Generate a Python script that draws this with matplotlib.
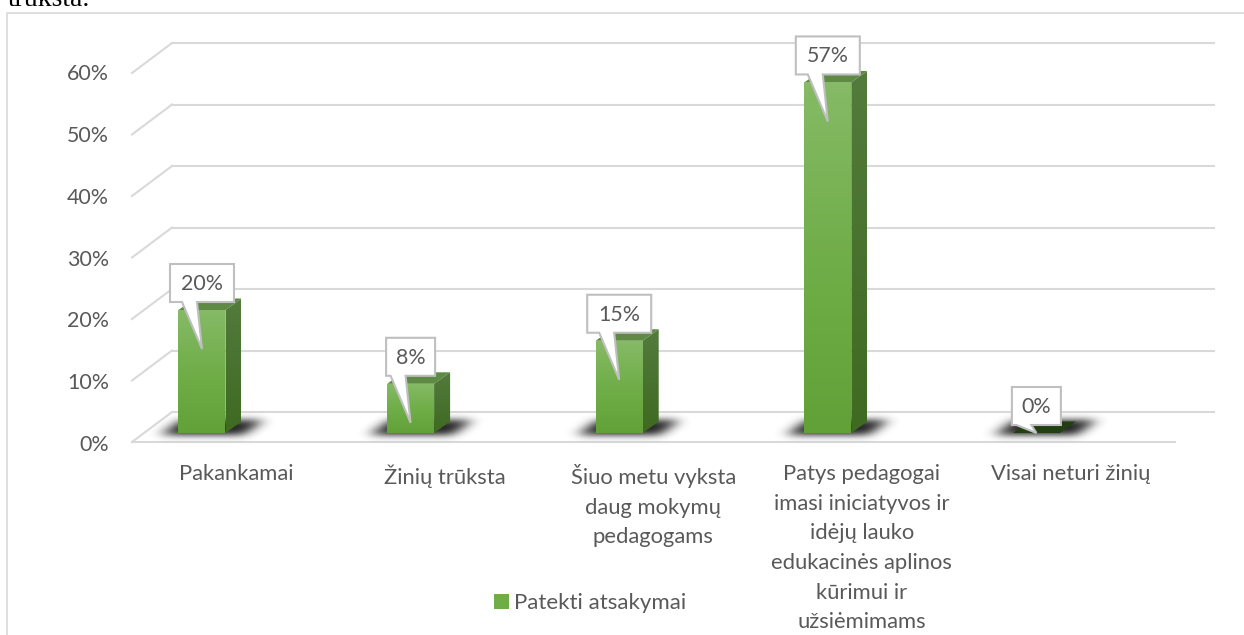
import numpy as np
import matplotlib
matplotlib.use("Agg")
import matplotlib.pyplot as plt
from matplotlib.colors import LinearSegmentedColormap
from matplotlib.patches import Patch, Polygon

categories = ["Pakankamai", "Žinių trūksta", "Šiuo metu vyksta\ndaug mokymų\npedagogams",
              "Patys pedagogai\nimasi iniciatyvos ir\nidėjų lauko\nedukacinės aplinos\nkūrimui ir\nužsiėmimams",
              "Visai neturi žinių"]
values = [20, 8, 15, 57, 0]
ticks = [0, 10, 20, 30, 40, 50, 60]
series_name = "Patekti atsakymai"
cut_text = "trūksta."

plt.rcParams["font.family"] = ["Lato", "DejaVu Sans"]

W, H = 1244, 635
X0, STEP = 202, 208.6   # pixel of first bar, pixels per category
Y0, PER = 433, 6.15     # pixel of 0% on the bar plane, pixels per percent
TEXT = "#595959"
GRID = "#d9d9d9"

front_cmap = LinearSegmentedColormap.from_list("f", ["#86ba66", "#70ae49", "#62a138"])
side_cmap = LinearSegmentedColormap.from_list("s", ["#537b3d", "#3e6a21"])
shadow_cmap = LinearSegmentedColormap.from_list("b", [(0.13, 0.13, 0.13, 0), (0.13, 0.13, 0.13, 1)])


def dx(px):
    return px / STEP


def dy(px):
    return px / PER


def xp(px):
    return (px - X0) / STEP


def yp(px):
    return (Y0 - px) / PER


fig = plt.figure(figsize=(W / 100, H / 100), dpi=100)
ax = fig.add_axes([0, 0, 1, 1])
ax.axis("off")


def gradient(pts, cmap, z):
    ys = [p[1] for p in pts]
    xs = [p[0] for p in pts]
    im = ax.imshow(np.linspace(0, 1, 64).reshape(-1, 1), cmap=cmap, aspect="auto", zorder=z,
                   extent=(min(xs), max(xs), min(ys), max(ys)), origin="upper")
    clip = Polygon(pts, closed=True, transform=ax.transData, fc="none", ec="none")
    ax.add_patch(clip)
    im.set_clip_path(clip)


def shadow(i):
    px = np.arange(-90, 120)
    py = np.arange(-36, 22)
    gx, gy = np.meshgrid(px, py)
    shear = (-gy) * 1.35
    mask = ((gy > -14) & (gy < 2) & (gx > -40 + shear) & (gx < 42 + shear)).astype(float)
    kx = np.exp(-np.arange(-20, 21) ** 2 / (2 * 7.0 ** 2))
    ky = np.exp(-np.arange(-14, 15) ** 2 / (2 * 3.5 ** 2))
    mask = np.apply_along_axis(lambda r: np.convolve(r, kx / kx.sum(), mode="same"), 1, mask)
    mask = np.apply_along_axis(lambda r: np.convolve(r, ky / ky.sum(), mode="same"), 0, mask)
    ax.imshow(mask, cmap=shadow_cmap, vmin=0, vmax=1, aspect="auto", zorder=2, origin="upper",
              extent=(i + dx(-90), i + dx(120), yp(Y0 + 22), yp(Y0 - 36)))


# walls and floor
for t in ticks:
    back = yp(412) + t
    front = yp(442) + t
    ax.plot([xp(172), xp(1214)], [back, back], color=GRID, lw=1.5, zorder=1)
    ax.plot([xp(132), xp(172)], [front, back], color=GRID, lw=1.5, zorder=1)
    ax.text(xp(109), yp(445) + t * 1.005, f"{t}%", ha="right", va="center", fontsize=15.4, color=TEXT)
ax.plot([xp(132), xp(1175)], [yp(442), yp(442)], color=GRID, lw=1.5, zorder=1)

# bars
half, ddx, ddy = dx(23.5), dx(16), dy(11.5)
for i, v in enumerate(values):
    shadow(i)
    top_col = "#5e8a45" if v > 0 else "#223f12"
    ax.add_patch(Polygon([(i - half, v), (i + half, v), (i + half + ddx, v + ddy), (i - half + ddx, v + ddy)],
                         fc=top_col, ec="none", zorder=3))
    if v > 0:
        gradient([(i - half, 0), (i + half, 0), (i + half, v), (i - half, v)], front_cmap, 3)
        gradient([(i + half, 0), (i + half + ddx, ddy), (i + half + ddx, v + ddy), (i + half, v)], side_cmap, 3)

# callouts
for i, v in enumerate(values):
    hw = dx(32) if v >= 10 else dx(24.5)
    top = v + dy(46)
    bot = v + dy(8)
    tip = max(v - dy(39), 0)
    ax.add_patch(Polygon([(i - hw, top), (i + hw, top), (i + hw, bot), (i + dx(-5), bot), (i, tip),
                          (i + dx(-20), bot), (i - hw, bot)],
                         fc="white", ec="#bfbfbf", lw=1.5, zorder=5, joinstyle="miter"))
    ax.text(i, v + dy(26), f"{v}%", ha="center", va="center", fontsize=15.4, color=TEXT, zorder=6)

# category labels
for i, c in enumerate(categories):
    ax.text(i + dx(34), yp(464), c, ha="center", va="top", fontsize=15.8, color=TEXT,
            linespacing=1.605, zorder=6)

ax.plot([xp(7.5), xp(7.5), xp(W)], [yp(H), yp(13), yp(13)], color=GRID, lw=1.2, zorder=1)
ax.text(xp(8), yp(6), cut_text, family="Liberation Serif", fontsize=20, color="black", va="baseline")

handle = Patch(fc="#70ad47", ec="none", label=series_name)
ax.legend(handles=[handle], loc="center left", bbox_to_anchor=(494 / W, 1 - 603 / H), frameon=False,
          fontsize=16, labelcolor=TEXT, handlelength=0.675, handleheight=0.675, handletextpad=0.23,
          borderpad=0, borderaxespad=0)

ax.set_xlim(xp(0), xp(W))
ax.set_ylim(yp(H), yp(0))
fig.savefig("out.png", dpi=100)
